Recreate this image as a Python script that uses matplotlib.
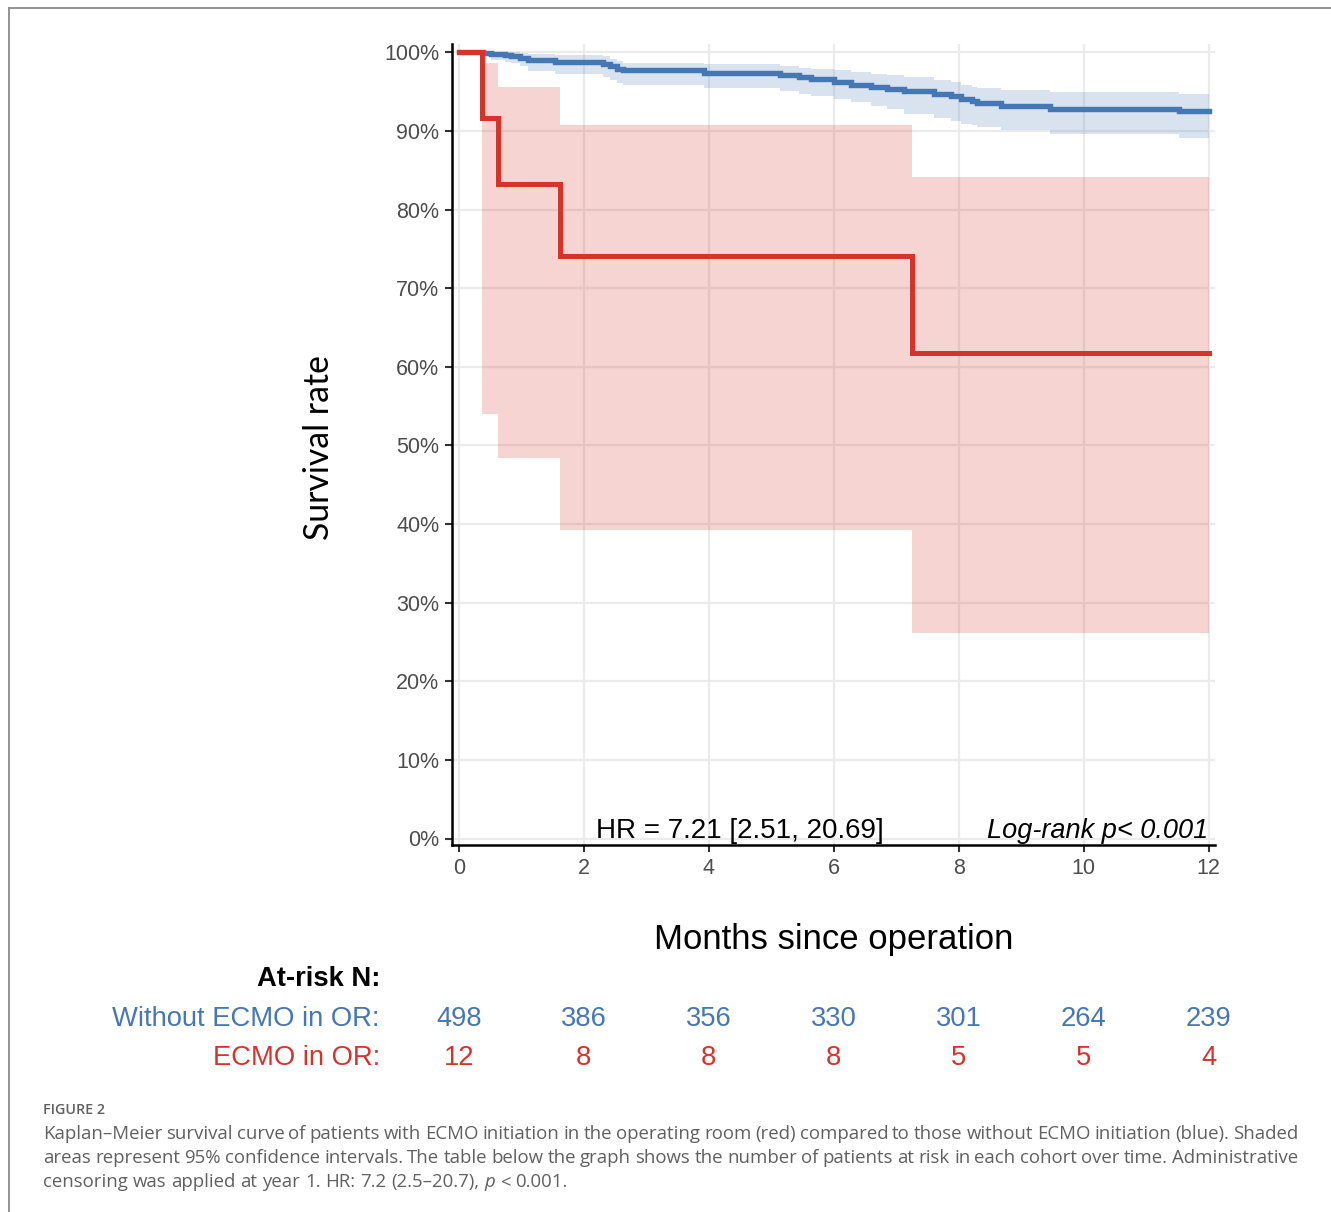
import matplotlib
matplotlib.use("Agg")
import matplotlib.pyplot as plt
from matplotlib.lines import Line2D

# ---------------- data ----------------
months_ticks = [0, 2, 4, 6, 8, 10, 12]
pct_ticks = [0, 10, 20, 30, 40, 50, 60, 70, 80, 90, 100]

# Without ECMO in OR (blue)
blue_t = [0, 0.39, 0.52, 0.74, 0.84, 0.98, 1.11, 1.54, 2.31, 2.42, 2.53, 2.63, 3.92,
          5.14, 5.44, 5.63, 6.00, 6.27, 6.59, 6.85, 7.12, 7.60, 7.87, 8.03, 8.22,
          8.30, 8.67, 9.47, 11.53]
blue_s = [100, 99.9, 99.75, 99.62, 99.49, 99.28, 99.07, 98.77, 98.56, 98.22, 97.92, 97.71, 97.42,
          97.16, 96.86, 96.56, 96.22, 95.89, 95.58, 95.38, 95.08, 94.75, 94.44, 94.11, 93.80,
          93.55, 93.22, 92.84, 92.49]
blue_up = [100, 100, 100, 100, 100, 99.9, 99.8, 99.6, 99.5, 99.2, 98.9, 98.7, 98.5,
           98.2, 98.0, 97.9, 97.7, 97.5, 97.3, 97.1, 96.9, 96.5, 96.2, 95.8, 95.6,
           95.4, 95.2, 94.95, 94.75]
blue_lo = [100, 99.5, 99.0, 98.8, 98.6, 98.3, 97.6, 97.3, 96.9, 96.5, 96.1, 95.8, 95.4,
           95.1, 94.7, 94.4, 94.0, 93.7, 93.2, 92.8, 92.2, 91.6, 91.2, 90.9, 90.7,
           90.5, 90.1, 89.65, 89.1]

# ECMO in OR (red)
red_t = [0, 0.37, 0.62, 1.62, 7.26]
red_s = [100, 91.7, 83.3, 74.1, 61.7]
red_up = [100, 98.7, 95.6, 90.8, 84.2]
red_lo = [100, 54.0, 48.4, 39.2, 26.2]

t_end = 12

risk_times = [0, 2, 4, 6, 8, 10, 12]
risk_blue = [498, 386, 356, 330, 301, 264, 239]
risk_red = [12, 8, 8, 8, 5, 5, 4]

hr_text = "HR = 7.21 [2.51, 20.69]"
logrank_text = "Log-rank p< 0.001"

caption_title = "FIGURE 2"
caption_lines = [
    "Kaplan\u2013Meier survival curve of patients with ECMO initiation in the operating room (red) compared to those without ECMO initiation (blue). Shaded",
    "areas represent 95% confidence intervals. The table below the graph shows the number of patients at risk in each cohort over time. Administrative",
    "censoring was applied at year 1. HR: 7.2 (2.5\u201320.7), *p* < 0.001.",
]

BLUE = "#4577B4"
RED = "#D5342B"

# ---------------- figure ----------------
W, H = 1331, 1212
fig = plt.figure(figsize=(W / 100, H / 100), dpi=100)
fig.patch.set_facecolor("white")


def fx(x):
    return x / W


def fy(y):
    return 1 - y / H


# page border (top and left)
fig.add_artist(Line2D([fx(9), 1.0], [fy(8), fy(8)], color="#8a8a8a", lw=1.3))
fig.add_artist(Line2D([fx(9), fx(9)], [fy(8), 0.0], color="#8a8a8a", lw=1.3))

ax_l, ax_r, ax_t, ax_b = 452, 1215, 44, 845
ax = fig.add_axes([fx(ax_l), fy(ax_b), (ax_r - ax_l) / W, (ax_b - ax_t) / H])

x0px, x12px = 459.0, 1208.5
ppx = (x12px - x0px) / 12
y0px, y100px = 838.5, 52.3
ppy = (y0px - y100px) / 100
ax.set_xlim(-(x0px - ax_l) / ppx, 12 + (ax_r - x12px) / ppx)
ax.set_ylim(-(ax_b - y0px) / ppy, 100 + (y100px - ax_t) / ppy)


def ext(a):
    return list(a) + [a[-1]]


bt = list(blue_t) + [t_end]
rt = list(red_t) + [t_end]

ax.fill_between(bt, ext(blue_lo), ext(blue_up), step="post", color=BLUE, alpha=0.2, lw=0, zorder=2)
ax.fill_between(rt, ext(red_lo), ext(red_up), step="post", color=RED, alpha=0.21, lw=0, zorder=2)
ax.step(bt, ext(blue_s), where="post", color=BLUE, lw=3.9, zorder=3, solid_joinstyle="miter")
ax.step(rt, ext(red_s), where="post", color=RED, lw=3.6, zorder=4, solid_joinstyle="miter")

ax.set_xticks(months_ticks)
ax.set_xticklabels([str(v) for v in months_ticks])
ax.set_yticks(pct_ticks)
ax.set_yticklabels([f"{v}%" for v in pct_ticks])
ax.grid(True, color="#EBEBEB", lw=1.6, zorder=0)
ax.set_axisbelow(True)
for s in ["top", "right"]:
    ax.spines[s].set_visible(False)
for s in ["left", "bottom"]:
    ax.spines[s].set_color("black")
    ax.spines[s].set_linewidth(1.8)
ax.tick_params(axis="both", colors="#333333", length=5, width=1.5,
               labelsize=15.5, labelcolor="#4D4D4D", pad=4)
for lab in ax.get_xticklabels() + ax.get_yticklabels():
    lab.set_fontfamily("Liberation Sans")

ax.text(2.19, 0.0, hr_text, fontsize=20, family="Liberation Sans", color="black",
        ha="left", va="baseline", zorder=5)
ax.text(12.0, 0.0, logrank_text, fontsize=19.5, family="Liberation Sans", style="italic",
        color="black", ha="right", va="baseline", zorder=5)

# axis titles
fig.text(fx(319), fy(448), "Survival rate", rotation=90, fontsize=24.3, family="Lato",
         color="black", ha="center", va="center")
fig.text(fx(834), fy(939), "Months since operation", fontsize=25, family="Liberation Sans",
         color="black", ha="center", va="center")

# at-risk table
RFS = 19.7
fig.text(fx(380), fy(979), "At-risk N:", fontsize=RFS, family="Liberation Sans",
         weight="bold", color="black", ha="right", va="center")
fig.text(fx(380), fy(1019), "Without ECMO in OR:", fontsize=RFS, family="Liberation Sans",
         color=BLUE, ha="right", va="center")
fig.text(fx(380), fy(1058), "ECMO in OR:", fontsize=RFS, family="Liberation Sans",
         color=RED, ha="right", va="center")
for tm, nb, nr in zip(risk_times, risk_blue, risk_red):
    xp = x0px + tm * ppx
    fig.text(fx(xp), fy(1019), str(nb), fontsize=RFS, family="Liberation Sans",
             color=BLUE, ha="center", va="center")
    fig.text(fx(xp), fy(1058), str(nr), fontsize=RFS, family="Liberation Sans",
             color=RED, ha="center", va="center")

# caption
CAP = "#606060"
fig.text(fx(43), fy(1110), caption_title, fontsize=10.3, family="Open Sans", weight="semibold",
         color=CAP, ha="left", va="center")

renderer = fig.canvas.get_renderer()


def place_line(line, x_left, x_right, yc, justify, fs=13.4):
    words = line.split(" ")
    arts = []
    for w in words:
        italic = w.startswith("*") and w.endswith("*") and len(w) > 2
        txt = w.strip("*") if italic else w
        t = fig.text(0, 0, txt, fontsize=fs, family="Open Sans", color=CAP,
                     style="italic" if italic else "normal", ha="left", va="center")
        arts.append(t)
    widths = [a.get_window_extent(renderer).width for a in arts]
    sp = fig.text(0, 0, "a a", fontsize=fs, family="Open Sans")
    sp2 = fig.text(0, 0, "aa", fontsize=fs, family="Open Sans")
    space = sp.get_window_extent(renderer).width - sp2.get_window_extent(renderer).width
    sp.remove()
    sp2.remove()
    if justify and len(arts) > 1:
        gap = (x_right - x_left - sum(widths)) / (len(arts) - 1)
    else:
        gap = space
    x = x_left
    for a, w in zip(arts, widths):
        a.set_position((fx(x), fy(yc)))
        x += w + gap


place_line(caption_lines[0], 43, 1298, 1134, True)
place_line(caption_lines[1], 43, 1298, 1158, True)
place_line(caption_lines[2], 43, 1298, 1182, False)

fig.savefig("out.png", dpi=100, facecolor="white")
